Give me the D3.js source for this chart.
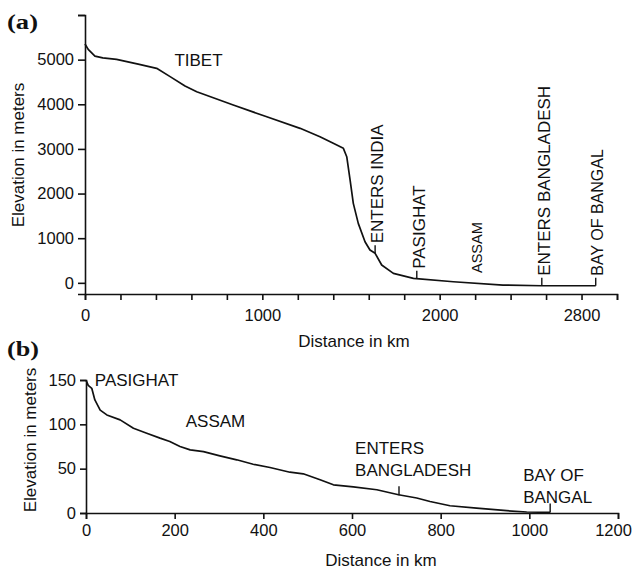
<!DOCTYPE html>
<html>
<head>
<meta charset="utf-8">
<script src="https://cdn.jsdelivr.net/npm/d3@7"></script>
<style>
  body { margin: 0; background: #fff; }
  svg { display: block; }
  text { fill: #111; font-family: "Liberation Sans", Arial, Helvetica, sans-serif; }
  .axis path, .axis line { stroke: #111; stroke-width: 1.6; }
  .axis text { font-size: 16.5px; }
  .curve { fill: none; stroke: #111; stroke-width: 1.7; stroke-linejoin: round; }
  .mark { stroke: #111; stroke-width: 1.4; }
</style>
</head>
<body>
<script>
// panel (a): whole river profile
const distA = [0, 18, 56, 100, 178, 300, 404, 480, 564, 630, 836, 1025, 1213, 1325, 1400, 1457, 1476, 1495, 1513, 1541, 1579, 1607, 1636, 1673, 1739, 1852, 2077, 2357, 2576, 2880];
const elevA = [5350, 5230, 5080, 5040, 5006, 4900, 4805, 4620, 4408, 4281, 3983, 3721, 3461, 3273, 3125, 3013, 2825, 2303, 1781, 1333, 921, 735, 661, 399, 213, 101, 25, -49, -65, -65];
const xTicksA = [0, 200, 400, 600, 800, 1000, 1200, 1400, 1600, 1800, 2000, 2200, 2400, 2600, 2800, 3000];
const xLabelsA = [0, 1000, 2000, 2800];
const yTicksA = [0, 1000, 2000, 3000, 4000, 5000, 6000];
const yLabelsA = [0, 1000, 2000, 3000, 4000, 5000];
// vertical place labels sitting on the curve
const marksA = ['ENTERS INDIA', 'PASIGHAT', 'ENTERS BANGLADESH', 'BAY OF BANGAL'];
const marksKmA = [1636, 1871, 2576, 2880];
const marksElevA = [661, 90, -65, -65];

// panel (b): Pasighat to the sea
const distB = [0, 5, 13, 20, 32, 47, 77, 107, 137, 167, 189, 212, 235, 265, 302, 340, 377, 415, 460, 490, 528, 558, 603, 656, 705, 746, 776, 821, 881, 949, 994, 1047];
const elevB = [150, 144, 140.6, 127.5, 116, 110.6, 105, 95.6, 90, 84.4, 80.6, 75, 71.2, 69.3, 64.5, 60, 55, 51.3, 46, 44.2, 37.5, 31.8, 29.5, 26.2, 20.6, 16.9, 13, 8.2, 5.6, 2.6, 1.1, 0.6];
const xTicksB = [0, 200, 400, 600, 800, 1000, 1200];
const yTicksB = [0, 50, 100, 150];
const marksKmB = [706, 1047];
const marksElevB = [20, 0.6];

const width = 634, height = 571;

let svg = d3.select('body').append('svg')
    .attr('width', width)
    .attr('height', height);

// ---------- panel (a) ----------
let xA = d3.scaleLinear().domain([0, 3000]).range([85, 617]),
    yA = d3.scaleLinear().domain([-250, 6000]).range([294, 15]);

let gA = svg.append('g');

gA.append('g')
    .attr('class', 'axis')
    .attr('transform', `translate(0,${yA.range()[0]})`)
    .call(d3.axisBottom(xA)
        .tickValues(xTicksA)
        .tickFormat(d => xLabelsA.includes(d) ? d : '')
        .tickSizeOuter(0).tickSize(6).tickPadding(9));

gA.append('g')
    .attr('class', 'axis')
    .attr('transform', `translate(${xA.range()[0]},0)`)
    .call(d3.axisLeft(yA)
        .tickValues(yTicksA)
        .tickFormat(d => yLabelsA.includes(d) ? d : '')
        .tickSizeOuter(0).tickSize(7).tickPadding(4));

gA.append('path')
    .attr('class', 'curve')
    .attr('d', d3.line()
        .x((d, i) => xA(distA[i]))
        .y(d => yA(d))(elevA));

marksA.forEach((name, i) => {
    let x = xA(marksKmA[i]), y = yA(marksElevA[i]);
    gA.append('line').attr('class', 'mark')
        .attr('x1', x).attr('x2', x)
        .attr('y1', y).attr('y2', y - 8);
    gA.append('text')
        .attr('transform', `translate(${x + 2},${y - 10}) rotate(-90)`)
        .attr('dy', '0.36em')
        .style('font-size', name === 'BAY OF BANGAL' ? '16px' : '17px')
        .text(name);
});

gA.append('text')
    .attr('transform', `translate(${xA(2210)},${yA(220)}) rotate(-90)`)
    .attr('dy', '0.36em')
    .style('font-size', '14.5px')
    .text('ASSAM');

gA.append('text')
    .attr('x', xA(640)).attr('y', yA(5000))
    .attr('text-anchor', 'middle').attr('dy', '0.36em')
    .style('font-size', '17px')
    .text('TIBET');

gA.append('text')
    .attr('x', 354).attr('y', 341)
    .attr('text-anchor', 'middle').attr('dy', '0.36em')
    .style('font-size', '17px')
    .text('Distance in km');

gA.append('text')
    .attr('transform', 'translate(18,155) rotate(-90)')
    .attr('text-anchor', 'middle').attr('dy', '0.36em')
    .style('font-size', '17px')
    .text('Elevation in meters');

gA.append('text')
    .attr('x', 7).attr('y', 29)
    .attr('textLength', 31).attr('lengthAdjust', 'spacingAndGlyphs')
    .style('font-family', '"Liberation Serif", "Times New Roman", serif')
    .style('font-weight', 'bold').style('font-size', '20px')
    .text('(a)');

// ---------- panel (b) ----------
let xB = d3.scaleLinear().domain([0, 1200]).range([86, 618]),
    yB = d3.scaleLinear().domain([0, 150]).range([513, 380]);

let gB = svg.append('g');

gB.append('g')
    .attr('class', 'axis')
    .attr('transform', `translate(0,${yB.range()[0]})`)
    .call(d3.axisBottom(xB)
        .tickValues(xTicksB)
        .tickFormat(d3.format('d'))
        .tickSizeOuter(0).tickSize(6).tickPadding(5))
    .selectAll('.tick text')
    .attr('dx', d => d === 1200 ? -5 : 0);

gB.append('g')
    .attr('class', 'axis')
    .attr('transform', `translate(${xB.range()[0]},0)`)
    .call(d3.axisLeft(yB)
        .tickValues(yTicksB)
        .tickSizeOuter(0).tickSize(6).tickPadding(4));

gB.append('path')
    .attr('class', 'curve')
    .attr('d', d3.line()
        .x((d, i) => xB(distB[i]))
        .y(d => yB(d))(elevB));

marksKmB.forEach((km, i) => {
    let x = xB(km), y = yB(marksElevB[i]);
    gB.append('line').attr('class', 'mark')
        .attr('x1', x).attr('x2', x)
        .attr('y1', y).attr('y2', y - 9);
});

function label(g, lines, x, y, size) {
    let t = g.append('text')
        .attr('x', x).attr('y', y)
        .style('font-size', size + 'px');
    lines.forEach((s, i) => {
        t.append('tspan')
            .attr('x', x)
            .attr('dy', i === 0 ? '0.36em' : '1.28em')
            .text(s);
    });
}

label(gB, ['PASIGHAT'], xB(20), yB(150), 17);
label(gB, ['ASSAM'], xB(225), yB(104), 17);
label(gB, ['ENTERS', 'BANGLADESH'], xB(607), yB(73), 17);
label(gB, ['BAY OF', 'BANGAL'], xB(986), yB(43), 17);

gB.append('text')
    .attr('x', 381).attr('y', 560)
    .attr('text-anchor', 'middle').attr('dy', '0.36em')
    .style('font-size', '17px')
    .text('Distance in km');

gB.append('text')
    .attr('transform', 'translate(30,440) rotate(-90)')
    .attr('text-anchor', 'middle').attr('dy', '0.36em')
    .style('font-size', '17px')
    .text('Elevation in meters');

gB.append('text')
    .attr('x', 7).attr('y', 356)
    .attr('textLength', 32).attr('lengthAdjust', 'spacingAndGlyphs')
    .style('font-family', '"Liberation Serif", "Times New Roman", serif')
    .style('font-weight', 'bold').style('font-size', '20px')
    .text('(b)');
</script>
</body>
</html>
